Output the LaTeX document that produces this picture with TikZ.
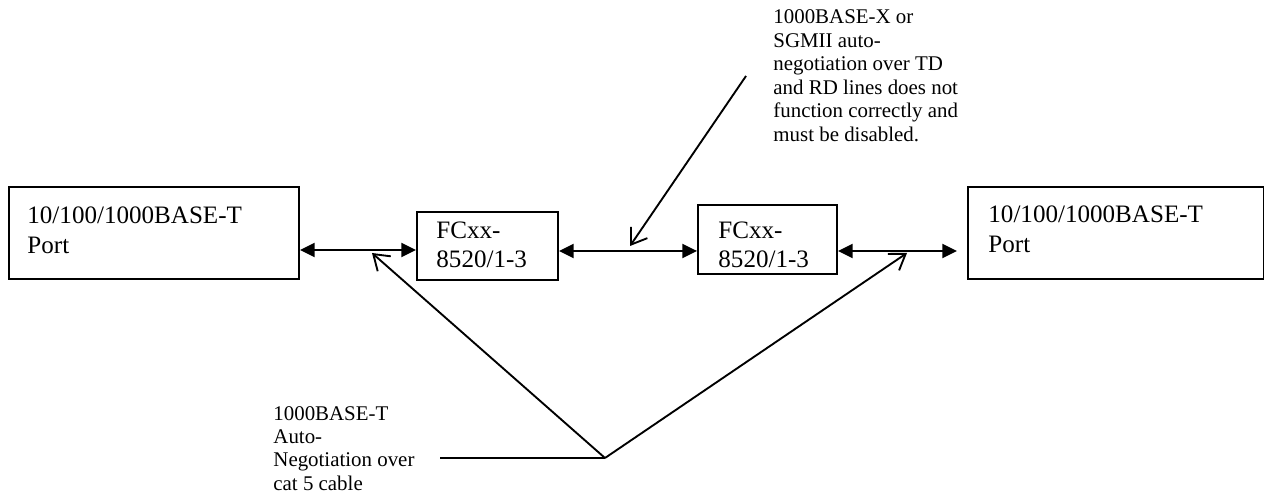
\documentclass[tikz,border=0pt]{standalone}
\usepackage{fontspec}
\setmainfont{Liberation Serif}
\usetikzlibrary{arrows.meta,fit}
\begin{document}
\begin{tikzpicture}[x=0.4785pt,y=-0.4785pt,
  boxnode/.style={draw,line width=0.9pt,inner sep=0pt},
  bigtxt/.style={inner sep=0pt,anchor=base west,font=\fontsize{12}{14.1}\selectfont},
  smalltxt/.style={inner sep=0pt,anchor=base west,font=\fontsize{10}{11.24}\selectfont},
  dbl/.style={line width=0.9pt,{Triangle[length=7pt,width=6.7pt]}-{Triangle[length=7pt,width=6.7pt]}},
  callout/.style={line width=0.9pt,-{Straight Barb[length=7pt,width=9.5pt,line width=0.9pt]}},
  plainline/.style={line width=0.9pt}]
\useasboundingbox (0,0) rectangle (1265,492);
% boxes
\node[boxnode,fit={(9,187)(299,279)}] (lbox) {};
\node[boxnode,fit={(417,212)(558,280)}] (fc1) {};
\node[boxnode,fit={(698,205)(837,274)}] (fc2) {};
\node[boxnode,fit={(968,187)(1263.5,279)}] (rbox) {};
% box texts
\node[bigtxt] (lboxt) at (27,224) {\begin{tabular}[t]{@{}l@{}}10/100/1000BASE-T\\Port\end{tabular}};
\node[bigtxt] (fc1t) at (436,238.5) {\begin{tabular}[t]{@{}l@{}}FCxx-\\8520/1-3\end{tabular}};
\node[bigtxt] (fc2t) at (718,238.5) {\begin{tabular}[t]{@{}l@{}}FCxx-\\8520/1-3\end{tabular}};
\node[bigtxt] (rboxt) at (988,223) {\begin{tabular}[t]{@{}l@{}}10/100/1000BASE-T\\Port\end{tabular}};
% annotation texts
\node[smalltxt] (topnote) at (773,24) {\begin{tabular}[t]{@{}l@{}}1000BASE-X or\\SGMII auto-\\negotiation over TD\\and RD lines does not\\function correctly and\\must be disabled.\end{tabular}};
\node[smalltxt] (botnote) at (273,420) {\begin{tabular}[t]{@{}l@{}}1000BASE-T\\Auto-\\Negotiation over\\cat 5 cable\end{tabular}};
% link levels
\coordinate (la) at (0,250);
\coordinate (lb) at (0,251);
\coordinate (lc) at (0,251);
\draw[dbl] (lbox.east |- la) -- (fc1.west |- la);
\draw[dbl] (fc1.east |- lb) -- (fc2.west |- lb);
\draw[dbl] (fc2.east |- lc) -- (957,251) coordinate (rend);
% callouts
\coordinate (ts) at (746,76);
\coordinate (tt) at (630,246);
\draw[callout] (ts) -- (tt);
\coordinate (hs) at (440,458);
\coordinate (v) at (605,458);
\coordinate (lt) at (372,253);
\coordinate (rt) at (907,253);
\draw[plainline] (hs) -- (v);
\draw[callout] (v) -- (lt);
\draw[callout] (v) -- (rt);
\end{tikzpicture}
\end{document}
